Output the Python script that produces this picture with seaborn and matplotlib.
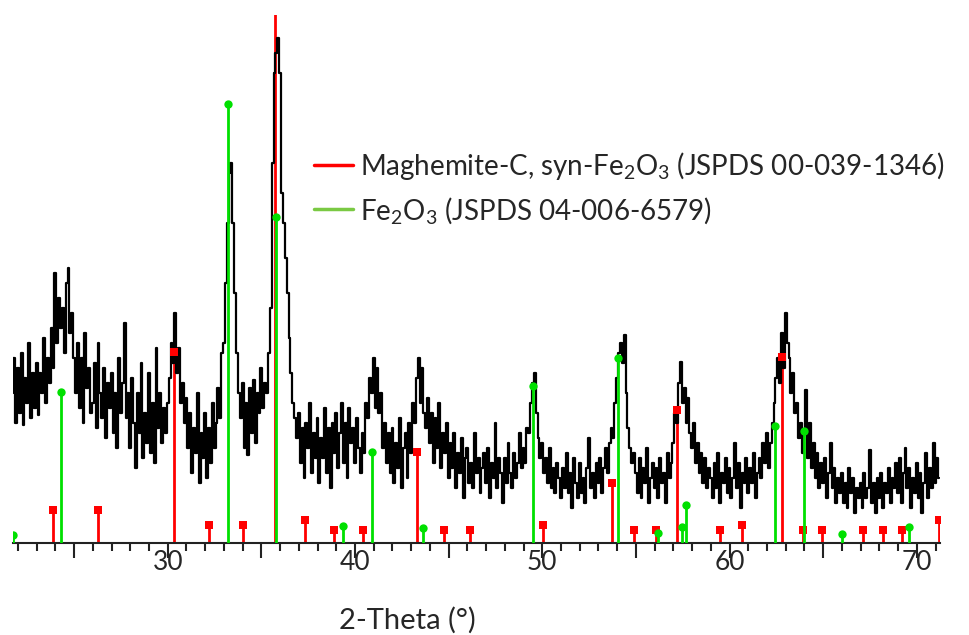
import numpy as np
import pandas as pd
import matplotlib.pyplot as plt
import seaborn as sns
from matplotlib.lines import Line2D

# measured XRD scan: 2-theta from 21.7 deg, step 0.1 deg (arbitrary intensity)
scan_start = 21.7
scan_step = 0.1
intensity = [
    150, 185, 120,
    175, 130, 190, 118, 165, 140, 200, 125, 170, 135,
    180, 128, 170, 150, 205, 140, 185, 160, 215, 175,
    270, 200, 245, 215, 235, 190, 260, 275, 210, 230,
    185, 150, 200, 135, 185, 120, 210, 155, 175, 130,
    140, 180, 115, 200, 150, 125, 175, 105, 160, 135,
    170, 110, 150, 95, 185, 130, 160, 220, 125, 150,
    95, 165, 120, 75, 150, 110, 180, 85, 130, 100,
    170, 90, 140, 80, 195, 115, 150, 100, 135, 110,
    140, 165, 200, 180, 230, 170, 195, 140, 160, 120,
    145, 95, 130, 70, 115, 90, 150, 60, 110, 85,
    130, 65, 115, 80, 140, 95, 120, 155, 125, 190,
    200, 260, 320, 370, 380, 320, 250, 190, 150, 125,
    160, 95, 140, 88, 155, 110, 163, 100, 150, 130,
    175, 135, 160, 150, 190, 235, 380, 470, 490, 505,
    470, 350, 320, 285, 250, 205, 170, 140, 125, 105,
    130, 80, 115, 65, 120, 95, 140, 70, 110, 85,
    125, 60, 105, 85, 135, 70, 115, 55, 120, 90,
    130, 75, 110, 140, 80, 120, 65, 135, 100, 115,
    80, 125, 95, 70, 110, 90, 140, 125, 165, 150,
    185, 135, 175, 130, 150, 95, 120, 80, 110, 70,
    115, 60, 100, 75, 125, 55, 95, 110, 65, 120,
    90, 140, 120, 165, 185, 140, 175, 130, 115, 145,
    100, 130, 80, 125, 95, 140, 75, 110, 90, 120,
    65, 100, 75, 110, 55, 90, 70, 105, 45, 85,
    95, 60, 80, 55, 110, 70, 85, 50, 75, 90,
    60, 95, 45, 80, 65, 120, 55, 85, 70, 40,
    85, 60, 100, 70, 55, 90, 65, 80, 110, 75,
    95, 80, 115, 110, 140, 160, 170, 130, 105, 85,
    100, 70, 85, 60, 95, 55, 75, 50, 80, 65,
    45, 75, 55, 90, 50, 70, 35, 85, 60, 45,
    80, 50, 65, 40, 75, 105, 55, 70, 45, 80,
    60, 85, 50, 75, 95, 70, 100, 115, 105, 140,
    165, 190, 200, 180, 208, 150, 115, 95, 80, 90,
    70, 50, 85, 45, 75, 60, 95, 40, 65, 80,
    55, 75, 45, 85, 60, 70, 40, 90, 65, 80,
    100, 130, 120, 160, 181, 140, 155, 120, 145, 110,
    95, 120, 80, 100, 70, 90, 60, 85, 55, 75,
    65, 45, 80, 55, 90, 40, 70, 60, 85, 50,
    75, 45, 65, 100, 55, 80, 35, 70, 60, 85,
    50, 75, 60, 90, 45, 70, 85, 65, 100, 80,
    110, 75, 100, 120, 140, 165, 185, 160, 210, 175,
    230, 200, 185, 150, 170, 130, 140, 105, 120, 90,
    110, 153, 85, 120, 75, 100, 65, 90, 55, 80,
    60, 85, 45, 70, 100, 55, 75, 40, 65, 50,
    70, 40, 60, 35, 75, 50, 65, 30, 55, 45,
    60, 35, 70, 45, 55, 93, 40, 60, 30, 65,
    45, 70, 35, 60, 50, 75, 40, 65, 55, 80,
    50, 85, 40, 70, 95, 55, 75, 35, 65, 50,
    80, 45, 70, 30, 60, 90, 45, 75, 55, 100,
    60, 85, 65,
]

# reference patterns (stick positions and relative heights)
maghemite_pos = [23.89, 26.26, 30.35, 32.20, 34.00, 35.73, 37.33, 38.88, 40.45,
                 43.33, 44.77, 46.14, 50.05, 53.74, 54.90, 56.10, 57.21, 59.50,
                 60.65, 62.78, 63.93, 64.94, 67.14, 68.17, 69.22, 71.20]
maghemite_int = [33, 33, 191, 18, 18, 560, 23, 13, 13,
                 91, 13, 13, 18, 60, 13, 13, 133, 13,
                 18, 186, 13, 13, 13, 13, 13, 23]
fe2o3_pos = [21.72, 24.29, 33.24, 35.77, 39.38, 40.93, 43.62, 49.52, 54.06,
             56.19, 57.44, 57.65, 62.43, 63.97, 66.00, 69.60]
fe2o3_int = [8, 151, 439, 326, 17, 91, 15, 157, 185,
             10, 16, 38, 117, 112, 9, 16]

maghemite_label = 'Maghemite-C, syn-Fe$_2$O$_3$ (JSPDS 00-039-1346)'
fe2o3_label = 'Fe$_2$O$_3$ (JSPDS 04-006-6579)'

two_theta = np.round(scan_start + scan_step * np.arange(len(intensity)), 2)
df = pd.DataFrame({'2theta': two_theta, 'I': intensity})
mag = pd.DataFrame({'pos': maghemite_pos, 'I': maghemite_int})
fe = pd.DataFrame({'pos': fe2o3_pos, 'I': fe2o3_int})

sns.set_style('ticks')
plt.rcParams['font.family'] = ['Lato', 'DejaVu Sans']
plt.rcParams['mathtext.default'] = 'regular'

red = '#ff0000'
green = '#00e000'
text_col = '#262626'

fig = plt.figure(figsize=(9.7, 6.35), dpi=100)
ax = fig.add_axes([12.7 / 970, 92 / 635, 927.3 / 970, 528 / 635])

ax.vlines(mag['pos'], 0, mag['I'], color=red, lw=2, zorder=1)
sns.lineplot(data=df, x='2theta', y='I', ax=ax, color='black', lw=1.6,
             zorder=2, estimator=None, drawstyle='steps-mid')
sns.scatterplot(data=mag, x='pos', y='I', ax=ax, color=red, marker='s', s=36,
                linewidth=0, zorder=2.5)
ax.vlines(fe['pos'], 0, fe['I'], color=green, lw=2, zorder=3)
sns.scatterplot(data=fe, x='pos', y='I', ax=ax, color=green, marker='o', s=36,
                linewidth=0, zorder=3.5)

ax.set_xlim(21.72, 71.24)
ax.set_ylim(0, 528)
sns.despine(ax=ax, left=True)
ax.set_yticks([])
ax.set_ylabel('')

major = [25, 30, 35, 40, 45, 50, 55, 60, 65, 70]
ax.set_xticks(major)
ax.set_xticklabels([str(m) if m % 10 == 0 else '' for m in major])
ax.set_xticks(np.arange(22, 72, 1), minor=True)
ax.tick_params(axis='x', which='major', length=11, width=1.5, color='#222222',
               labelsize=19, labelcolor=text_col, pad=-6)
ax.tick_params(axis='x', which='minor', length=6, width=1.5, color='#222222')
ax.spines['bottom'].set_linewidth(1.5)
ax.spines['bottom'].set_color('#222222')

ax.set_xlabel('2-Theta (°)', fontsize=21, color=text_col)
ax.xaxis.set_label_coords(0.426, -0.121)

handles = [Line2D([], [], color=red, lw=2.5),
           Line2D([], [], color='#7ac943', lw=2.5)]
ax.legend(handles, [maghemite_label, fe2o3_label], loc='upper left',
          bbox_to_anchor=(314 / 970, 1 - 150 / 635), bbox_transform=fig.transFigure,
          frameon=False, fontsize=20, handlelength=1.4, handletextpad=0.25,
          labelspacing=0.45, borderpad=0, borderaxespad=0, labelcolor=text_col)

fig.savefig('out.png', dpi=100)
